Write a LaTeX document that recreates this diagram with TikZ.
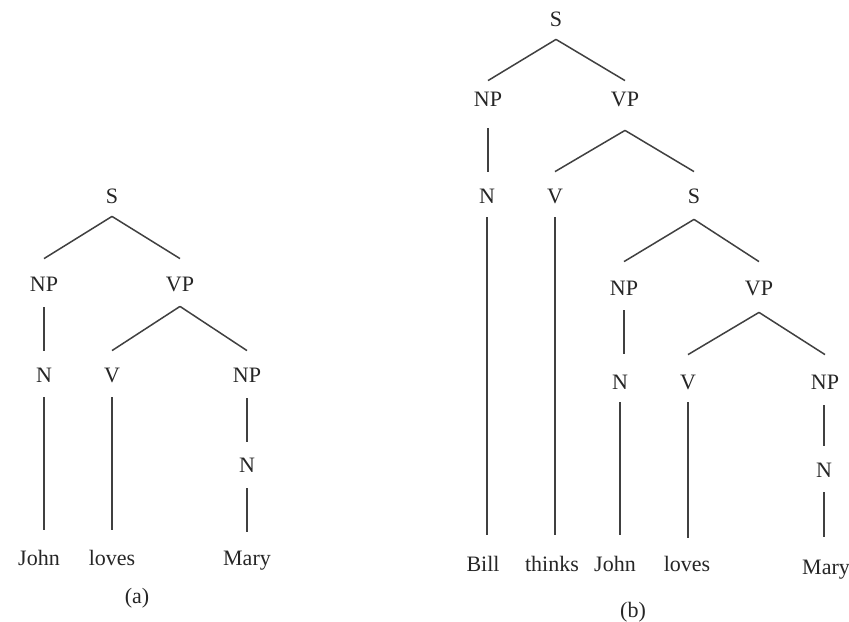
\documentclass[tikz,border=0pt]{standalone}
\usepackage{fontspec}
\setmainfont{Liberation Serif}
\begin{document}
\begin{tikzpicture}[x=0.5pt,y=-0.5pt,
  lbl/.style={anchor=base,inner sep=0pt,text height=7pt,text depth=0pt,
    font=\fontsize{11}{13}\selectfont,text=black!85},
  branch/.style={draw=black!75,line width=0.75pt}]
\useasboundingbox[fill=white] (0,0) rectangle (849,621);

% ---------- tree (a): John loves Mary ----------
\node[lbl] (aS)    at (112,203) {S};
\node[lbl] (aNP)   at (44,291)  {NP};
\node[lbl] (aVP)   at (180,291) {VP};
\node[lbl] (aN)    at (44,382)  {N};
\node[lbl] (aV)    at (112,382) {V};
\node[lbl] (aNPo)  at (247,382) {NP};
\node[lbl] (aNo)   at (247,472) {N};
\node[lbl] (aJohn) at (39,565)  {John};
\node[lbl] (aLoves) at (112,565) {loves};
\node[lbl] (aMary) at (247,565) {Mary};
\node[lbl] (capA)  at (137,603) {(a)};

\draw[branch] ([yshift=-6.5pt]aS.south) -- ([yshift=9pt]aNP.north);
\draw[branch] ([yshift=-6.5pt]aS.south) -- ([yshift=9pt]aVP.north);
\draw[branch] ([yshift=-8pt]aNP.south) -- ([yshift=8.5pt]aNP.south |- aN.north);
\draw[branch] ([yshift=-7.5pt]aVP.south) -- ([yshift=8.5pt]aV.north);
\draw[branch] ([yshift=-7.5pt]aVP.south) -- ([yshift=8.5pt]aNPo.north);
\draw[branch] ([yshift=-7.5pt]aN.south) -- ([yshift=10.5pt]aN.south |- aJohn.north);
\draw[branch] ([yshift=-7.5pt]aV.south) -- ([yshift=10.5pt]aV.south |- aLoves.north);
\draw[branch] ([yshift=-8pt]aNPo.south) -- ([yshift=8pt]aNPo.south |- aNo.north);
\draw[branch] ([yshift=-8pt]aNo.south) -- ([yshift=9.5pt]aNo.south |- aMary.north);

% ---------- tree (b): Bill thinks John loves Mary ----------
\node[lbl] (bS)     at (556,26)  {S};
\node[lbl] (bNP)    at (488,106) {NP};
\node[lbl] (bVP)    at (625,106) {VP};
\node[lbl] (bN)     at (487,203) {N};
\node[lbl] (bV)     at (555,203) {V};
\node[lbl] (bSi)    at (694,203) {S};
\node[lbl] (bNPi)   at (624,295) {NP};
\node[lbl] (bVPi)   at (759,295) {VP};
\node[lbl] (bNi)    at (620,389) {N};
\node[lbl] (bVi)    at (688,389) {V};
\node[lbl] (bNPo)   at (825,389) {NP};
\node[lbl] (bNo)    at (824,477) {N};
\node[lbl] (bBill)  at (483,571) {Bill};
\node[lbl] (bThinks) at (552,571) {thinks};
\node[lbl] (bJohn)  at (615,571) {John};
\node[lbl] (bLoves) at (687,571) {loves};
\node[lbl] (bMary)  at (826,574) {Mary};
\node[lbl] (capB)   at (633,617) {(b)};

\draw[branch] ([yshift=-6.5pt]bS.south) -- ([yshift=5.5pt]bNP.north);
\draw[branch] ([yshift=-6.5pt]bS.south) -- ([yshift=5.5pt]bVP.north);
\draw[branch] ([yshift=-11pt]bNP.south) -- ([yshift=8.5pt]bNP.south |- bN.north);
\draw[branch] ([yshift=-12pt]bVP.south) -- ([yshift=8.5pt]bV.north);
\draw[branch] ([yshift=-12pt]bVP.south) -- ([yshift=8.5pt]bSi.north);
\draw[branch] ([yshift=-7pt]bN.south) -- ([yshift=11pt]bN.south |- bBill.north);
\draw[branch] ([yshift=-7pt]bV.south) -- ([yshift=11pt]bV.south |- bThinks.north);
\draw[branch] ([yshift=-8pt]bSi.south) -- ([yshift=9.5pt]bNPi.north);
\draw[branch] ([yshift=-8pt]bSi.south) -- ([yshift=9.5pt]bVPi.north);
\draw[branch] ([yshift=-7.5pt]bNPi.south) -- ([yshift=10.5pt]bNPi.south |- bNi.north);
\draw[branch] ([yshift=-8.5pt]bVPi.south) -- ([yshift=10pt]bVi.north);
\draw[branch] ([yshift=-8.5pt]bVPi.south) -- ([yshift=10pt]bNPo.north);
\draw[branch] ([yshift=-6.5pt]bNi.south) -- ([yshift=11pt]bNi.south |- bJohn.north);
\draw[branch] ([yshift=-6.5pt]bVi.south) -- ([yshift=9.5pt]bVi.south |- bLoves.north);
\draw[branch] ([yshift=-8pt]bNo.north |- bNPo.south) -- ([yshift=8.5pt]bNo.north);
\draw[branch] ([yshift=-7.5pt]bNo.south) -- ([yshift=11.5pt]bNo.south |- bMary.north);
\end{tikzpicture}
\end{document}
